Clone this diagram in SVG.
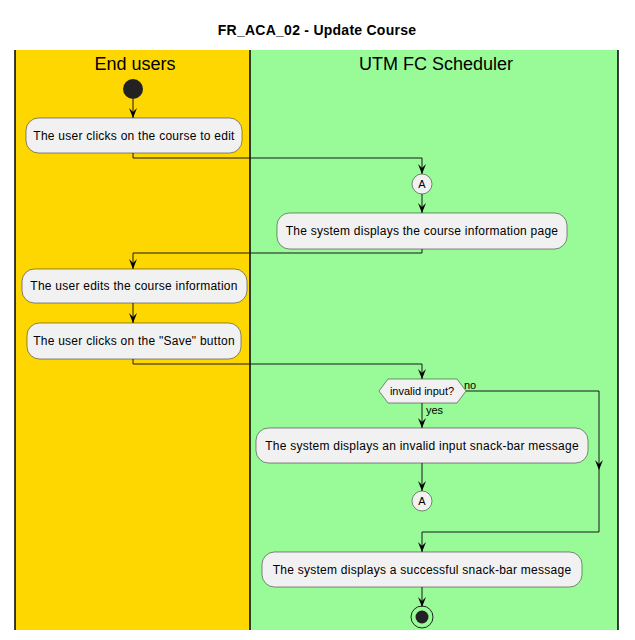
<svg xmlns="http://www.w3.org/2000/svg" width="635" height="640" viewBox="0 0 635 640">
  <style>
    text { font-family: "Liberation Sans", Arial, sans-serif; fill: #000; }
    .title { font-size: 14px; font-weight: bold; text-anchor: middle; letter-spacing: 0.25px; }
    .lane-title { font-size: 18px; text-anchor: middle; }
    .action rect { fill: #F1F1F1; stroke: #181818; stroke-width: 0.5; }
    .action text { font-size: 12px; text-anchor: middle; letter-spacing: 0.25px; }
    .conn path { fill: none; stroke: #181818; stroke-width: 1; }
    .conn .head { fill: #181818; stroke: #181818; stroke-width: 1; }
    .lbl { font-size: 11px; }
    .connector circle { fill: #F1F1F1; stroke: #181818; stroke-width: 0.5; }
    .connector text { font-size: 11px; text-anchor: middle; }
  </style>
  <defs>
    <!-- downward arrowhead with notch, tip at origin -->
    <polygon id="ah" class="head" points="-4,-10 0,0 4,-10 0,-6" />
  </defs>

  <rect width="635" height="640" fill="#FFFFFF"/>
  <text class="title" x="317" y="35">FR_ACA_02 - Update Course</text>

  <!-- swimlanes -->
  <g id="lane-end-users">
    <rect x="15" y="50" width="235" height="580" fill="#FFD700"/>
    <text class="lane-title" x="135" y="70">End users</text>
  </g>
  <g id="lane-scheduler">
    <rect x="250" y="50" width="368" height="580" fill="#98FB98"/>
    <text class="lane-title" x="436" y="70">UTM FC Scheduler</text>
  </g>
  <g id="lane-borders" stroke="#000" stroke-width="1.5">
    <line x1="15" y1="50" x2="15" y2="630"/>
    <line x1="250" y1="50" x2="250" y2="630"/>
    <line x1="618" y1="50" x2="618" y2="630"/>
  </g>

  <!-- connectors -->
  <g id="connectors" class="conn">
    <path d="M133,99 V118"/>
    <use href="#ah" x="133" y="118"/>
    <path d="M133,153 V158 H422 V174"/>
    <use href="#ah" x="422" y="174"/>
    <path d="M422,194 V213"/>
    <use href="#ah" x="422" y="213"/>
    <path d="M422,249 V253 H133 V269"/>
    <use href="#ah" x="133" y="269"/>
    <path d="M133,303 V323"/>
    <use href="#ah" x="133" y="323"/>
    <path d="M133,359 V364 H422 V379"/>
    <use href="#ah" x="422" y="379"/>
    <path d="M422,403 V428"/>
    <use href="#ah" x="422" y="428"/>
    <path d="M466,391 H599 V532 H422 V552"/>
    <use href="#ah" x="599" y="470"/>
    <use href="#ah" x="422" y="552"/>
    <path d="M422,463 V491"/>
    <use href="#ah" x="422" y="491"/>
    <path d="M422,587 V607"/>
    <use href="#ah" x="422" y="607"/>
    <text class="lbl" x="464" y="389">no</text>
    <text class="lbl" x="426" y="414">yes</text>
  </g>

  <!-- nodes -->
  <g id="start">
    <circle cx="133" cy="89" r="10" fill="#222222"/>
  </g>
  <g id="user-clicks-course" class="action">
    <rect x="26" y="118" width="216" height="35" rx="12.5"/>
    <text x="134" y="140">The user clicks on the course to edit</text>
  </g>
  <g id="connector-a-in" class="connector">
    <circle cx="422" cy="184" r="10"/>
    <text x="422" y="188">A</text>
  </g>
  <g id="system-displays-info" class="action">
    <rect x="277" y="213" width="290" height="36" rx="12.5"/>
    <text x="422" y="235">The system displays the course information page</text>
  </g>
  <g id="user-edits-info" class="action">
    <rect x="22" y="269" width="225" height="34" rx="12.5"/>
    <text x="134" y="290">The user edits the course information</text>
  </g>
  <g id="user-clicks-save" class="action">
    <rect x="27" y="323" width="214" height="36" rx="12.5"/>
    <text x="134" y="345">The user clicks on the "Save" button</text>
  </g>
  <g id="decision-invalid">
    <polygon points="379,391 388,379 457,379 466,391 457,403 388,403" fill="#F1F1F1" stroke="#181818" stroke-width="0.5"/>
    <text x="422" y="395" font-size="11" text-anchor="middle">invalid input?</text>
  </g>
  <g id="system-invalid-msg" class="action">
    <rect x="256" y="428" width="332" height="35" rx="12.5"/>
    <text x="422" y="450">The system displays an invalid input snack-bar message</text>
  </g>
  <g id="connector-a-out" class="connector">
    <circle cx="422" cy="501" r="10"/>
    <text x="422" y="505">A</text>
  </g>
  <g id="system-success-msg" class="action">
    <rect x="262" y="552" width="320" height="35" rx="12.5"/>
    <text x="422" y="574">The system displays a successful snack-bar message</text>
  </g>
  <g id="end">
    <circle cx="422" cy="617" r="11" fill="none" stroke="#222222" stroke-width="1"/>
    <circle cx="422" cy="617" r="6.5" fill="#222222"/>
  </g>
</svg>
